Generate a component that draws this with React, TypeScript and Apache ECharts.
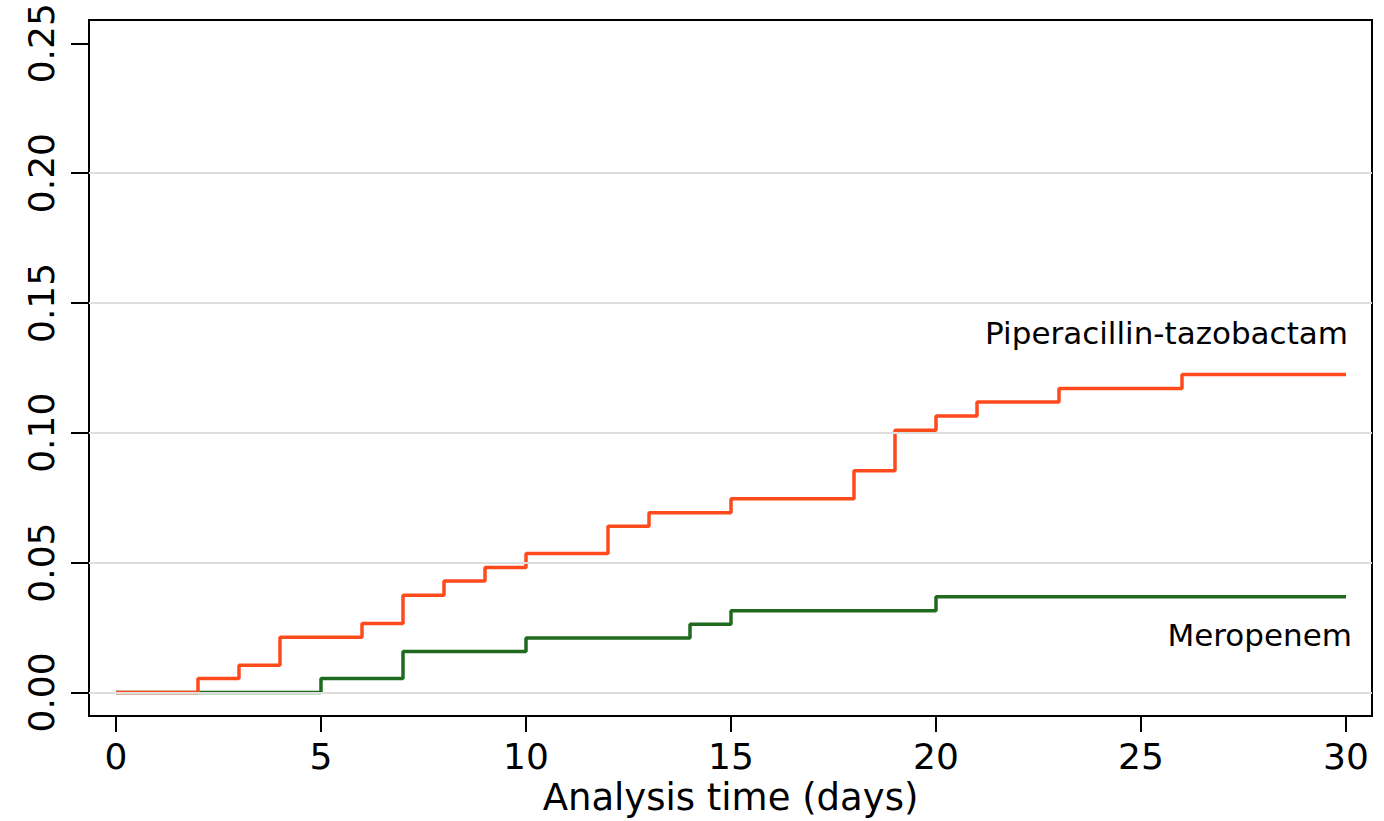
import React, { useEffect, useRef } from "react";
import * as echarts from "echarts";

const xTicks = [0, 5, 10, 15, 20, 25, 30];
const yTicks = [0, 0.05, 0.1, 0.15, 0.2, 0.25];
const yGridValues = [0, 0.05, 0.1, 0.15, 0.2];

const pipTazTimes = [0, 2, 3, 4, 6, 7, 8, 9, 10, 12, 13, 15, 18, 19, 20, 21, 23, 26, 30];
const pipTazValues = [0, 0.0054, 0.0105, 0.0212, 0.0265, 0.0374, 0.0429, 0.0481, 0.0535, 0.064, 0.0692, 0.0746, 0.0854, 0.101, 0.1065, 0.1118, 0.117, 0.1224, 0.1224];

const meroTimes = [0, 5, 7, 10, 14, 15, 20, 30];
const meroValues = [0, 0.0054, 0.0158, 0.021, 0.0263, 0.0315, 0.0368, 0.0368];

const seriesNames = ["Piperacillin-tazobactam", "Meropenem"];
const xTitle = "Analysis time (days)";

const FONT = "DejaVu Sans";

export default function App() {
  const ref = useRef<HTMLDivElement>(null);
  useEffect(() => {
    document.body.style.margin = "0";
    const chart = echarts.init(ref.current!, null, { renderer: "svg" });
    const pip = pipTazTimes.map((t, i) => [t, pipTazValues[i]]);
    const mero = meroTimes.map((t, i) => [t, meroValues[i]]);
    chart.setOption({
      animation: false,
      backgroundColor: "#ffffff",
      grid: {
        left: 89,
        top: 20,
        right: 12,
        bottom: 104,
        show: true,
        borderColor: "#000",
        borderWidth: 2,
        backgroundColor: "transparent",
      },
      xAxis: {
        type: "value",
        min: -0.6585,
        max: 30.634,
        name: xTitle,
        nameLocation: "middle",
        nameGap: 62,
        nameTextStyle: { fontFamily: FONT, fontSize: 37, color: "#000" },
        axisLine: { show: true, onZero: false, lineStyle: { color: "#000", width: 2 } },
        axisTick: { show: true, length: 16, lineStyle: { color: "#000", width: 2 }, customValues: xTicks },
        axisLabel: { fontFamily: FONT, fontSize: 36, color: "#000", margin: 22, customValues: xTicks },
        splitLine: { show: false },
      },
      yAxis: {
        type: "value",
        min: -0.00912,
        max: 0.25896,
        axisLine: { show: true, onZero: false, lineStyle: { color: "#000", width: 2 } },
        axisTick: { show: true, length: 18, lineStyle: { color: "#000", width: 2 }, customValues: yTicks },
        axisLabel: {
          fontFamily: FONT,
          fontSize: 36,
          color: "#000",
          rotate: 90,
          margin: 30,
          customValues: yTicks,
          formatter: (v: number) => v.toFixed(2),
        },
        splitLine: { show: false },
      },
      series: [
        {
          name: "grid",
          type: "line",
          data: [],
          silent: true,
          z: 1,
          markLine: {
            silent: true,
            symbol: ["none", "none"],
            label: { show: false },
            lineStyle: { color: "#dedede", width: 2, type: "solid" },
            data: yGridValues.map((v) => ({ yAxis: v })),
          },
        },
        {
          name: seriesNames[1],
          type: "line",
          step: "end",
          data: mero,
          showSymbol: false,
          lineStyle: { color: "#1f6a1f", width: 3.5 },
          itemStyle: { color: "#1f6a1f" },
          z: 3,
        },
        {
          name: seriesNames[0],
          type: "line",
          step: "end",
          data: pip,
          showSymbol: false,
          lineStyle: { color: "#ff4a1c", width: 3.5 },
          itemStyle: { color: "#ff4a1c" },
          z: 4,
        },
      ],
      graphic: [
        {
          type: "text",
          right: 36,
          top: 317,
          style: { text: seriesNames[0], fontFamily: FONT, fontSize: 31, fill: "#000" },
        },
        {
          type: "text",
          right: 32,
          top: 619,
          style: { text: seriesNames[1], fontFamily: FONT, fontSize: 31, fill: "#000" },
        },
      ],
    });
    return () => chart.dispose();
  }, []);
  return <div ref={ref} style={{ width: 1384, height: 821 }} />;
}
